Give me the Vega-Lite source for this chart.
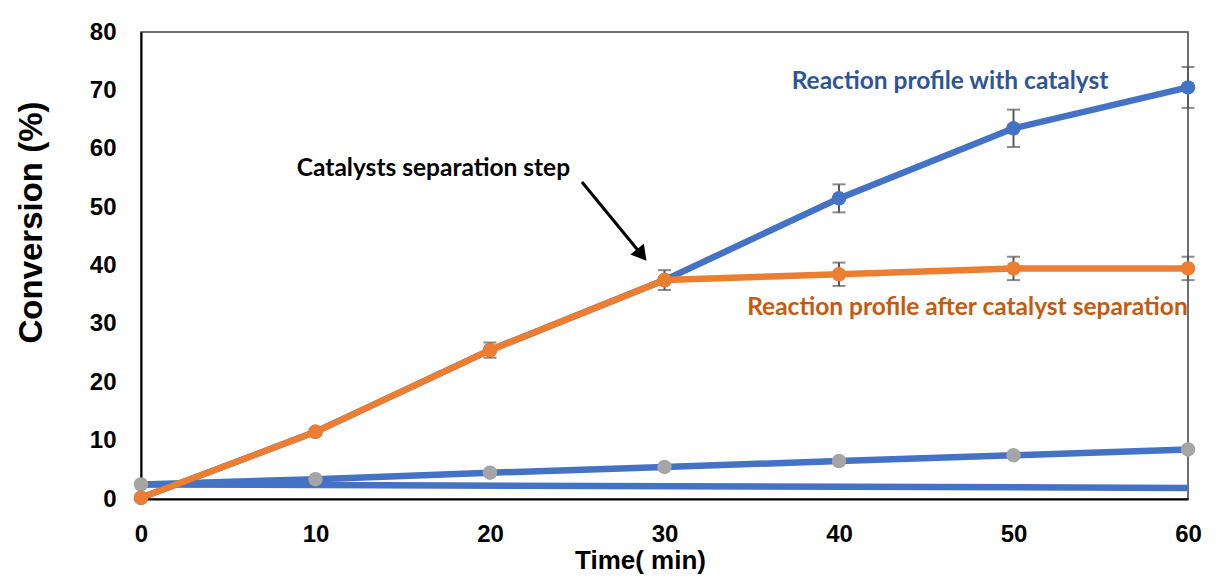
{
  "$schema": "https://vega.github.io/schema/vega-lite/v6.json",
  "width": 1047,
  "height": 467,
  "autosize": {"type": "none"},
  "padding": {"left": 141, "top": 32, "right": 42, "bottom": 82},
  "background": "white",
  "config": {
    "view": {"stroke": "#404040", "strokeWidth": 1.5},
    "axis": {
      "labelFont": "Liberation Sans",
      "labelFontWeight": "bold",
      "labelFontSize": 24,
      "labelColor": "black",
      "titleFont": "Liberation Sans",
      "titleFontWeight": "bold",
      "titleColor": "black",
      "grid": false,
      "ticks": false,
      "tickSize": 0,
      "domainColor": "black",
      "domainWidth": 2
    }
  },
  "datasets": {
    "series": [
      {"series": "flat", "time": 0, "conv": 2.5, "err": 0},
      {"series": "flat", "time": 60, "conv": 1.9, "err": 0},
      {"series": "control", "time": 0, "conv": 2.5, "err": 0},
      {"series": "control", "time": 10, "conv": 3.4, "err": 0},
      {"series": "control", "time": 20, "conv": 4.5, "err": 0},
      {"series": "control", "time": 30, "conv": 5.5, "err": 0},
      {"series": "control", "time": 40, "conv": 6.5, "err": 0},
      {"series": "control", "time": 50, "conv": 7.5, "err": 0},
      {"series": "control", "time": 60, "conv": 8.5, "err": 0},
      {"series": "with", "time": 0, "conv": 0.2, "err": 0},
      {"series": "with", "time": 10, "conv": 11.5, "err": 0.4},
      {"series": "with", "time": 20, "conv": 25.5, "err": 1.3},
      {"series": "with", "time": 30, "conv": 37.5, "err": 1.7},
      {"series": "with", "time": 40, "conv": 51.5, "err": 2.4},
      {"series": "with", "time": 50, "conv": 63.5, "err": 3.2},
      {"series": "with", "time": 60, "conv": 70.5, "err": 3.5},
      {"series": "after", "time": 0, "conv": 0.2, "err": 0},
      {"series": "after", "time": 10, "conv": 11.5, "err": 0.4},
      {"series": "after", "time": 20, "conv": 25.5, "err": 1.3},
      {"series": "after", "time": 30, "conv": 37.5, "err": 1.7},
      {"series": "after", "time": 40, "conv": 38.5, "err": 2.0},
      {"series": "after", "time": 50, "conv": 39.5, "err": 2.0},
      {"series": "after", "time": 60, "conv": 39.5, "err": 2.0}
    ],
    "notes": [
      {"kind": "step", "text": "Catalysts separation step", "time": 16.76, "conv": 56.6},
      {"kind": "with", "text": "Reaction profile with catalyst", "time": 46.36, "conv": 71.4},
      {"kind": "after", "text": "Reaction profile after catalyst separation", "time": 47.36, "conv": 32.8}
    ],
    "arrow": [
      {"t1": 25.27, "v1": 54.3, "t2": 28.7, "v2": 41.8}
    ]
  },
  "encoding": {
    "x": {
      "field": "time",
      "type": "quantitative",
      "scale": {"domain": [0, 60], "nice": false},
      "axis": {
        "values": [0, 10, 20, 30, 40, 50, 60],
        "title": "Time( min)",
        "titleFontSize": 26,
        "titleX": 499,
        "titleY": 48,
        "titleAlign": "center",
        "titleBaseline": "top",
        "labelPadding": 23,
        "labelFlush": false
      }
    },
    "y": {
      "field": "conv",
      "type": "quantitative",
      "scale": {"domain": [0, 80], "nice": false},
      "axis": {
        "values": [0, 10, 20, 30, 40, 50, 60, 70, 80],
        "title": "Conversion (%)",
        "titleFontSize": 33,
        "titleAngle": -90,
        "titleX": -110,
        "titleY": 190,
        "titleAlign": "center",
        "titleBaseline": "middle",
        "labelPadding": 25
      }
    }
  },
  "layer": [
    {
      "data": {"name": "series"},
      "transform": [{"filter": "datum.series == 'flat'"}],
      "mark": {"type": "line", "color": "#4472C4", "strokeWidth": 6.5}
    },
    {
      "data": {"name": "series"},
      "transform": [{"filter": "datum.series == 'control'"}],
      "mark": {"type": "line", "color": "#4472C4", "strokeWidth": 6.5}
    },
    {
      "data": {"name": "series"},
      "transform": [{"filter": "datum.series == 'control'"}],
      "mark": {"type": "point", "shape": "circle", "filled": true, "color": "#A5A5A5", "opacity": 1, "size": 210}
    },
    {
      "data": {"name": "series"},
      "transform": [{"filter": "datum.series == 'with'"}],
      "mark": {"type": "line", "color": "#4472C4", "strokeWidth": 6.5}
    },
    {
      "data": {"name": "series"},
      "transform": [{"filter": "datum.series == 'with' && datum.time >= 40"}],
      "mark": {"type": "errorbar", "ticks": {"size": 13}, "color": "#595959", "thickness": 2},
      "encoding": {"yError": {"field": "err"}}
    },
    {
      "data": {"name": "series"},
      "transform": [{"filter": "datum.series == 'with'"}],
      "mark": {"type": "point", "shape": "circle", "filled": true, "color": "#4472C4", "opacity": 1, "size": 210}
    },
    {
      "data": {"name": "series"},
      "transform": [{"filter": "datum.series == 'after'"}],
      "mark": {"type": "line", "color": "#ED7D31", "strokeWidth": 6.5}
    },
    {
      "data": {"name": "series"},
      "transform": [{"filter": "datum.series == 'after' && datum.time > 0"}],
      "mark": {"type": "errorbar", "ticks": {"size": 13}, "color": "#595959", "thickness": 2},
      "encoding": {"yError": {"field": "err"}}
    },
    {
      "data": {"name": "series"},
      "transform": [{"filter": "datum.series == 'after'"}],
      "mark": {"type": "point", "shape": "circle", "filled": true, "color": "#ED7D31", "opacity": 1, "size": 210}
    },
    {
      "data": {"name": "arrow"},
      "mark": {"type": "rule", "color": "black", "strokeWidth": 3},
      "encoding": {
        "x": {"field": "t1", "type": "quantitative"},
        "y": {"field": "v1", "type": "quantitative"},
        "x2": {"field": "t2"},
        "y2": {"field": "v2"}
      }
    },
    {
      "data": {"name": "arrow"},
      "mark": {"type": "point", "shape": "triangle-down", "filled": true, "color": "black", "opacity": 1, "size": 300, "angle": 321},
      "encoding": {
        "x": {"field": "t2", "type": "quantitative"},
        "y": {"field": "v2", "type": "quantitative"}
      }
    },
    {
      "data": {"name": "notes"},
      "transform": [{"filter": "datum.kind == 'step'"}],
      "mark": {"type": "text", "font": "Lato", "fontWeight": "bold", "fontSize": 24.5, "color": "black", "align": "center", "baseline": "middle"},
      "encoding": {"text": {"field": "text"}}
    },
    {
      "data": {"name": "notes"},
      "transform": [{"filter": "datum.kind == 'with'"}],
      "mark": {"type": "text", "font": "Lato", "fontWeight": "bold", "fontSize": 24.5, "color": "#2F5597", "align": "center", "baseline": "middle"},
      "encoding": {"text": {"field": "text"}}
    },
    {
      "data": {"name": "notes"},
      "transform": [{"filter": "datum.kind == 'after'"}],
      "mark": {"type": "text", "font": "Lato", "fontWeight": "bold", "fontSize": 24.5, "color": "#C55A11", "align": "center", "baseline": "middle"},
      "encoding": {"text": {"field": "text"}}
    }
  ]
}
